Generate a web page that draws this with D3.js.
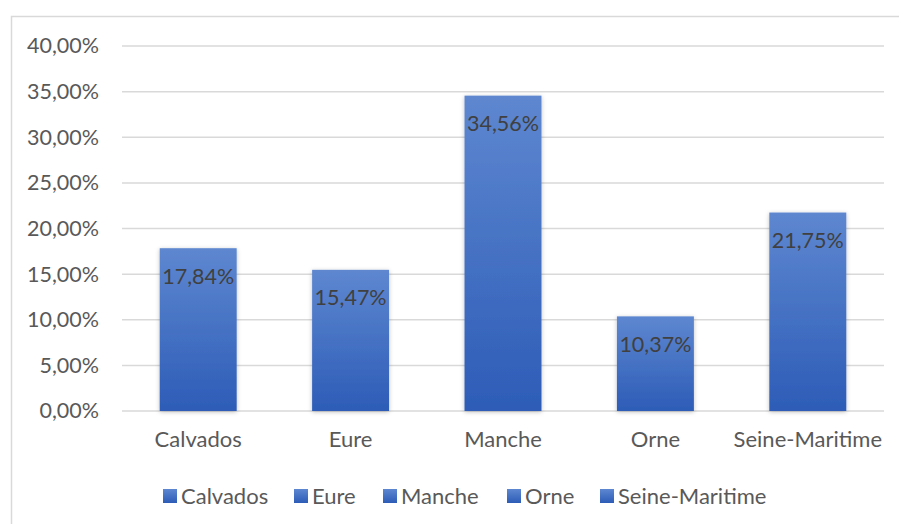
<!DOCTYPE html>
<html><head><meta charset="utf-8">
<script src="https://cdn.jsdelivr.net/npm/d3@7"></script>
<style>body{margin:0;background:#fff;}svg{display:block;font-family:Lato,"Open Sans",sans-serif;}</style>
</head><body>
<svg id="chart" width="899" height="524"></svg>
<script>
const categories = ["Calvados","Eure","Manche","Orne","Seine-Maritime"];
const values = [17.84, 15.47, 34.56, 10.37, 21.75];
const yTicks = [0,5,10,15,20,25,30,35,40];

const svg = d3.select("#chart");
const fmt = v => v.toFixed(2).replace(".", ",") + "%";

const defs = svg.append("defs");
const grad = defs.append("linearGradient").attr("id","g").attr("x1",0).attr("y1",0).attr("x2",0).attr("y2",1);
grad.append("stop").attr("offset","0%").attr("stop-color","#5e87d0");
grad.append("stop").attr("offset","100%").attr("stop-color","#2d5cb7");
const lg = defs.append("linearGradient").attr("id","lg").attr("x1",0).attr("y1",0).attr("x2",0).attr("y2",1);
lg.append("stop").attr("offset","0%").attr("stop-color","#5e87d0");
lg.append("stop").attr("offset","100%").attr("stop-color","#2d5cb7");
const f = defs.append("filter").attr("id","sh").attr("x","-20%").attr("y","-20%").attr("width","140%").attr("height","140%");
f.append("feDropShadow").attr("dx",0).attr("dy",1).attr("stdDeviation",2).attr("flood-color","#000").attr("flood-opacity",0.25);

// chart border
svg.append("rect").attr("x",11.5).attr("y",16.5).attr("width",900).attr("height",520)
  .attr("fill","none").attr("stroke","#d9d9d9").attr("stroke-width",1.5);

const x = d3.scaleBand().domain(categories).range([122, 884]).paddingInner(0.495).paddingOuter(0.2475);
const y = d3.scaleLinear().domain([0, 40]).range([411, 46]);

// gridlines
svg.append("g").selectAll("line").data(yTicks).join("line")
  .attr("x1",122).attr("x2",884).attr("y1",d=>y(d)).attr("y2",d=>y(d))
  .attr("stroke","#d9d9d9").attr("stroke-width",1.5);

// y axis labels
const yAxis = d3.axisLeft(y).tickValues(yTicks).tickSize(0).tickPadding(0).tickFormat(d=>fmt(d));
const ya = svg.append("g").attr("transform","translate(99,0)").call(yAxis);
ya.select(".domain").remove();
ya.selectAll("text").attr("font-size",21.5).attr("fill","#595959").attr("font-family","Lato,'Open Sans',sans-serif");

// x axis labels
const xAxis = d3.axisBottom(x).tickSize(0).tickPadding(0);
const xa = svg.append("g").attr("transform","translate(0,431)").call(xAxis);
xa.select(".domain").remove();
xa.selectAll("text").attr("font-size",22).attr("fill","#595959").attr("font-family","Lato,'Open Sans',sans-serif");

// bars
svg.append("g").selectAll("rect").data(values).join("rect")
  .attr("x",(d,i)=>x(categories[i])).attr("width",x.bandwidth())
  .attr("y",d=>y(d)).attr("height",d=>y(0)-y(d))
  .attr("fill","url(#g)").attr("filter","url(#sh)");

// data labels
svg.append("g").selectAll("text").data(values).join("text")
  .attr("x",(d,i)=>x(categories[i])+x.bandwidth()/2)
  .attr("y",d=>y(d)+35.5)
  .attr("text-anchor","middle").attr("font-size",21.5).attr("fill","#404040")
  .text(d=>fmt(d));

// legend
const legendX = [163, 294, 383, 507, 600];
const lgG = svg.append("g").selectAll("g").data(categories).join("g")
  .attr("transform",(d,i)=>`translate(${legendX[i]},496)`);
lgG.append("rect").attr("x",0).attr("y",-7).attr("width",14).attr("height",14).attr("fill","url(#lg)");
lgG.append("text").attr("x",18).attr("y",0).attr("dy","0.35em").attr("font-size",22).attr("fill","#595959").text(d=>d);
</script>
</body></html>
